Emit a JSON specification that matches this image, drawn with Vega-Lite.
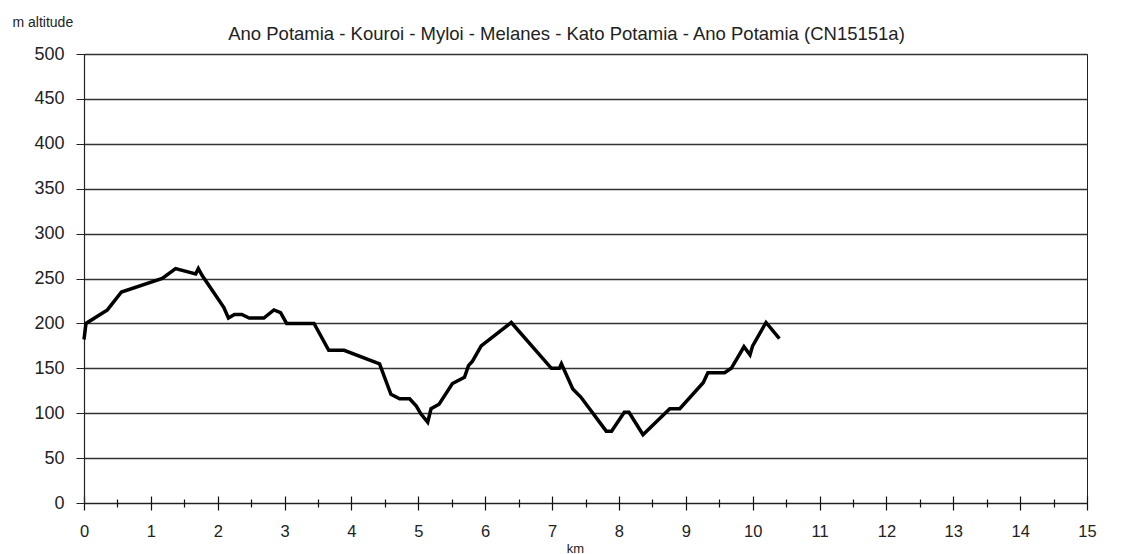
{
  "$schema": "https://vega.github.io/schema/vega-lite/v6.json",
  "autosize": "none",
  "width": 1003,
  "height": 449,
  "padding": {"left": 84, "top": 54, "right": 42, "bottom": 51},
  "background": "white",
  "config": {
    "view": {"stroke": "#222", "strokeWidth": 1},
    "font": "Liberation Sans"
  },
  "title": {
    "text": "Ano Potamia - Kouroi - Myloi - Melanes - Kato Potamia - Ano Potamia (CN15151a)",
    "font": "Liberation Sans",
    "fontSize": 18.5,
    "fontWeight": "normal",
    "color": "#222",
    "anchor": "middle",
    "frame": "group",
    "dx": -19,
    "baseline": "alphabetic",
    "offset": -43
  },
  "data": {
    "values": [
      {"km": 0, "alt": 182},
      {"km": 0.03, "alt": 200},
      {"km": 0.35, "alt": 215},
      {"km": 0.56, "alt": 235},
      {"km": 1.17, "alt": 250},
      {"km": 1.37, "alt": 261},
      {"km": 1.67, "alt": 255},
      {"km": 1.71, "alt": 261},
      {"km": 1.77, "alt": 253},
      {"km": 2.09, "alt": 218},
      {"km": 2.16, "alt": 206},
      {"km": 2.25, "alt": 210},
      {"km": 2.36, "alt": 210},
      {"km": 2.47, "alt": 206},
      {"km": 2.69, "alt": 206},
      {"km": 2.84, "alt": 215},
      {"km": 2.94, "alt": 212},
      {"km": 3.03, "alt": 200},
      {"km": 3.44, "alt": 200},
      {"km": 3.66, "alt": 170},
      {"km": 3.89, "alt": 170},
      {"km": 4.42, "alt": 155},
      {"km": 4.59, "alt": 121},
      {"km": 4.72, "alt": 116},
      {"km": 4.87, "alt": 116},
      {"km": 4.97, "alt": 108},
      {"km": 5.04, "alt": 99},
      {"km": 5.14, "alt": 90},
      {"km": 5.19, "alt": 105},
      {"km": 5.31, "alt": 110},
      {"km": 5.51, "alt": 133},
      {"km": 5.69, "alt": 140},
      {"km": 5.75, "alt": 153},
      {"km": 5.81, "alt": 158},
      {"km": 5.94, "alt": 175},
      {"km": 6.39, "alt": 201},
      {"km": 6.99, "alt": 150},
      {"km": 7.11, "alt": 150},
      {"km": 7.14, "alt": 155},
      {"km": 7.31, "alt": 127},
      {"km": 7.43, "alt": 118},
      {"km": 7.81, "alt": 80},
      {"km": 7.89, "alt": 80},
      {"km": 8.08, "alt": 101},
      {"km": 8.15, "alt": 101},
      {"km": 8.36, "alt": 76},
      {"km": 8.76, "alt": 105},
      {"km": 8.91, "alt": 105},
      {"km": 9.26, "alt": 134},
      {"km": 9.33, "alt": 145},
      {"km": 9.58, "alt": 145},
      {"km": 9.68, "alt": 150},
      {"km": 9.87, "alt": 174},
      {"km": 9.96, "alt": 165},
      {"km": 10.0, "alt": 175},
      {"km": 10.2, "alt": 201},
      {"km": 10.4, "alt": 183}
    ]
  },
  "layer": [
    {
      "mark": {"type": "line", "color": "black", "strokeWidth": 3.5, "strokeJoin": "miter"},
      "encoding": {
        "x": {
          "field": "km", "type": "quantitative",
          "scale": {"domain": [0, 15], "nice": false, "zero": false},
          "axis": {
            "orient": "bottom",
            "values": [0,1,2,3,4,5,6,7,8,9,10,11,12,13,14,15],
            "format": "d",
            "labelFont": "Liberation Sans",
            "labelFontSize": 16.5,
            "labelColor": "#222",
            "labelPadding": 13,
            "labelFlush": false,
            "labelOverlap": false,
            "domain": true,
            "domainColor": "#222",
            "domainWidth": 1.2,
            "grid": false,
            "ticks": true,
            "tickColor": "#111",
            "tickWidth": 1.2,
            "tickSize": 7,
            "title": "km",
            "titleFont": "Liberation Sans",
            "titleFontSize": 13,
            "titleFontWeight": "normal",
            "titleColor": "#222",
            "titleX": 491,
            "titleY": 49,
            "titleAlign": "center",
            "titleBaseline": "alphabetic"
          }
        },
        "y": {
          "field": "alt", "type": "quantitative",
          "scale": {"domain": [0, 500], "nice": false},
          "axis": {
            "values": [0,50,100,150,200,250,300,350,400,450,500],
            "labelFont": "Liberation Sans",
            "labelFontSize": 18,
            "labelColor": "#222",
            "labelPadding": 12,
            "labelFlush": false,
            "labelOverlap": false,
            "domain": true,
            "domainColor": "#222",
            "domainWidth": 1.2,
            "grid": true,
            "gridColor": "#333",
            "gridWidth": 1.3,
            "tickColor": "#222",
            "tickSize": 8,
            "tickWidth": 1,
            "title": "m altitude",
            "titleFont": "Liberation Sans",
            "titleFontSize": 14,
            "titleFontWeight": "normal",
            "titleColor": "#222",
            "titleAngle": 0,
            "titleX": -72,
            "titleY": -28,
            "titleAlign": "left",
            "titleBaseline": "alphabetic"
          }
        }
      }
    },
    {
      "mark": {"type": "line", "color": "black", "opacity": 0},
      "encoding": {
        "x": {
          "field": "km", "type": "quantitative",
          "scale": {"domain": [0, 15], "nice": false, "zero": false},
          "axis": {
            "orient": "bottom",
            "offset": -7,
            "values": [0,1,2,3,4,5,6,7,8,9,10,11,12,13,14,15],
            "labels": false,
            "domain": false,
            "grid": false,
            "title": null,
            "ticks": true,
            "tickColor": "#111",
            "tickWidth": 1.2,
            "tickSize": 7
          }
        },
        "y": {"field": "alt", "type": "quantitative"}
      }
    },
    {
      "mark": {"type": "line", "color": "black", "opacity": 0},
      "encoding": {
        "x": {
          "field": "km", "type": "quantitative",
          "scale": {"domain": [0, 15], "nice": false, "zero": false},
          "axis": {
            "orient": "bottom",
            "offset": -4,
            "values": [0.5,1.5,2.5,3.5,4.5,5.5,6.5,7.5,8.5,9.5,10.5,11.5,12.5,13.5,14.5],
            "labels": false,
            "domain": false,
            "grid": false,
            "title": null,
            "ticks": true,
            "tickColor": "#111",
            "tickWidth": 1.2,
            "tickSize": 8
          }
        },
        "y": {"field": "alt", "type": "quantitative"}
      }
    }
  ],
  "resolve": {"axis": {"x": "independent"}}
}
